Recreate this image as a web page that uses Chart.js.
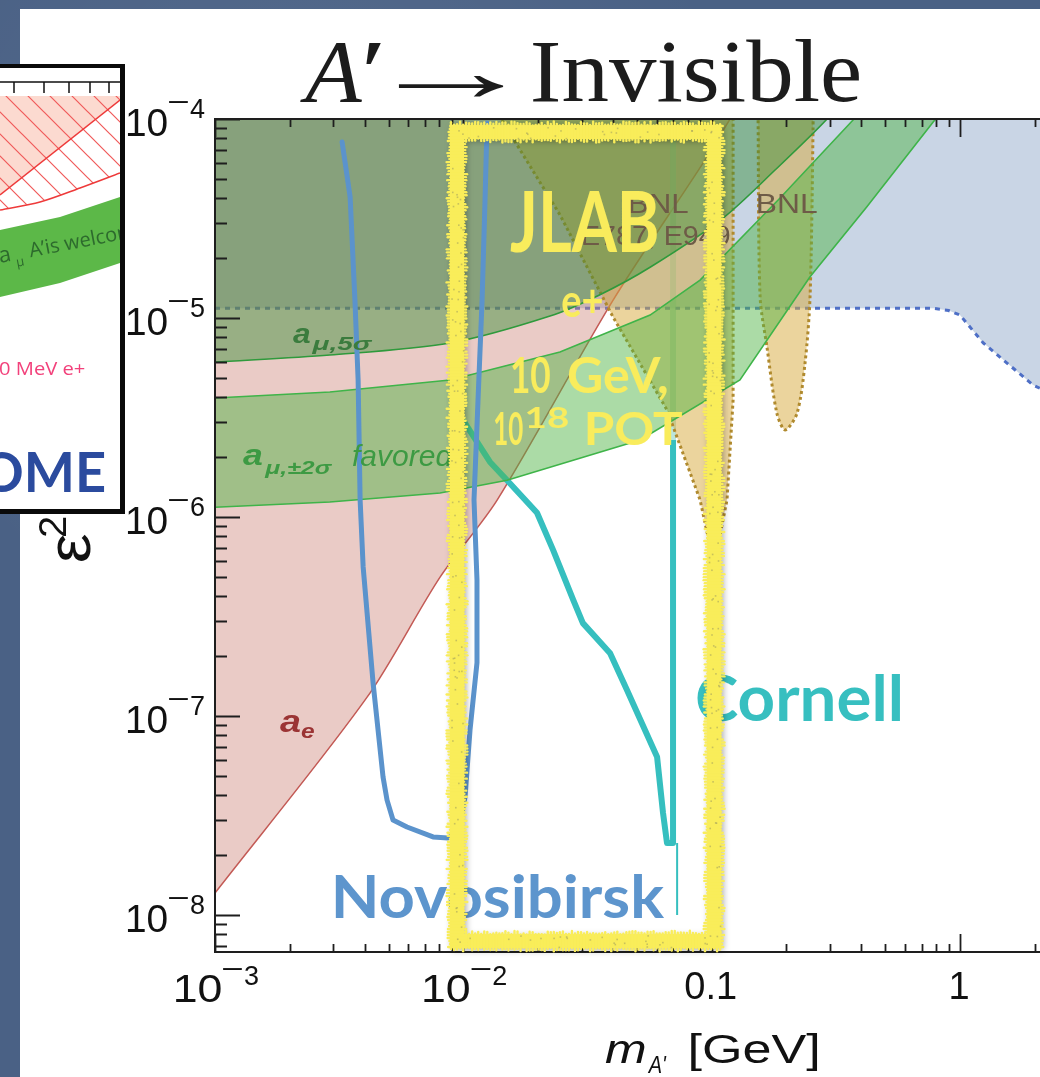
<!DOCTYPE html>
<html>
<head>
<meta charset="utf-8">
<script src="https://cdn.jsdelivr.net/npm/chart.js@4.4.1/dist/chart.umd.min.js"></script>
<style>
html,body{margin:0;padding:0;}
body{width:1040px;height:1077px;overflow:hidden;position:relative;background:#4a6185;
 background-image:radial-gradient(circle at 30% 20%, rgba(255,255,255,0.07), transparent 40%),radial-gradient(circle at 70% 80%, rgba(0,0,0,0.08), transparent 45%);}
#panel{position:absolute;left:20px;top:9px;right:0;bottom:0;background:#fff;}
#main{position:absolute;left:0;top:0;}
#inset{position:absolute;left:0;top:64px;width:120px;height:441px;border-top:4px solid #0a0a0a;border-right:5px solid #0a0a0a;border-bottom:5px solid #0a0a0a;background:#fff;overflow:hidden;}
#inset canvas{display:block;}
</style>
</head>
<body>
<div id="panel"></div>
<canvas id="main" width="1040" height="1077"></canvas>
<div id="inset"><canvas id="insetCanvas" width="120" height="441"></canvas></div>
<script>
// ================= DATA (x: m_A' in GeV, y: epsilon^2) =================
const xTickValues = [1e-3, 1e-2, 0.1, 1];
const xTickLabels = ['10^-3', '10^-2', '0.1', '1'];
const yTickValues = [1e-8, 1e-7, 1e-6, 1e-5, 1e-4];
const yTickLabels = ['10^-8', '10^-7', '10^-6', '10^-5', '10^-4'];

// blue dotted region (lower boundary, excluded above)
const babarBoundary = [[1e-3,1.12e-5],[0.78,1.12e-5],[0.9,1.09e-5],[1.0,1.035e-5],[1.24,7.5e-6],[1.97,4.6e-6],[2.4,4.1e-6]];
// a_e excluded region (lower boundary)
const aeBoundary = [[1e-3,1.29e-8],[4.09e-3,1.24e-7],[8.06e-3,4.99e-7],[0.0137,1.22e-6],[0.0401,1.23e-5],[0.0923,6.0e-5],[0.1186,1e-4],[0.15,1.6e-4]];
// a_mu 5 sigma excluded (lower boundary)
const amu5sigma = [[1e-3,6.0e-6],[2.9e-3,6.52e-6],[8.84e-3,7.49e-6],[0.02234,1.023e-5],[0.0355,1.31e-5],[0.0565,1.80e-5],[0.1112,3.18e-5],[0.180,5.54e-5],[0.2916,1e-4],[0.4,1.6e-4]];
// a_mu +-2 sigma favored band
const amu2sigmaUpper = [[1e-3,3.96e-6],[2.9e-3,4.25e-6],[8.84e-3,4.88e-6],[0.0245,6.75e-6],[0.0565,1.035e-5],[0.0898,1.55e-5],[0.1886,4.01e-5],[0.371,9.88e-5],[0.574,1.76e-4]];
const amu2sigmaLower = [[1e-3,1.12e-6],[2.9e-3,1.19e-6],[8.06e-3,1.32e-6],[0.0150,1.53e-6],[0.0515,2.44e-6],[0.130,4.88e-6],[0.249,1.61e-5],[0.421,3.61e-5],[0.78,9.66e-5],[1.0,1.40e-4]];
// BNL E787 / E949 regions
const bnlE787E949 = [[0.0140,1.3e-4],[0.0142,1e-4],[0.0245,3.3e-5],[0.0401,1.01e-5],[0.0661,3.45e-6],[0.0898,1.22e-6],[0.1023,5.74e-7],[0.1153,1.22e-6],[0.122,3.87e-6],[0.122,1.3e-4]];
const bnlRight = [[0.1538,1.3e-4],[0.1538,1e-4],[0.1567,1.28e-5],[0.167,7.15e-6],[0.183,3.33e-6],[0.1977,2.74e-6],[0.2208,3.33e-6],[0.2377,5.94e-6],[0.249,1.28e-5],[0.256,8.8e-5],[0.256,1.3e-4]];
// Novosibirsk projected reach
const novosibirsk = [[3.25e-3,7.66e-5],[3.50e-3,4.06e-5],[3.66e-3,1.23e-5],[3.77e-3,4.88e-6],[3.84e-3,1.22e-6],[3.95e-3,5.61e-7],[4.33e-3,1.47e-7],[4.75e-3,4.94e-8],[4.93e-3,3.78e-8],[5.21e-3,3.0e-8],[5.93e-3,2.77e-8],[7.55e-3,2.47e-8],[8.68e-3,2.44e-8],[9.52e-3,2.61e-8],[0.01016,3.92e-8],[0.01064,8.5e-8],[0.01135,1.85e-7],[0.01135,4.82e-7],[0.01104,1.22e-6],[0.01146,3.87e-6],[0.01190,1.23e-5],[0.01223,3.92e-5],[0.01246,9.55e-5]];
// Cornell projected reach
const cornell = [[9.75e-3,3.2e-6],[0.0128,1.89e-6],[0.0150,1.53e-6],[0.0198,1.05e-6],[0.0230,6.82e-7],[0.0277,3.83e-7],[0.0303,2.93e-7],[0.0390,2.07e-7],[0.0456,1.35e-7],[0.0603,6.22e-8],[0.0637,3.26e-8],[0.0661,2.30e-8],[0.0699,2.30e-8],[0.0699,2.44e-6]];
const cornellUpper = [[0.0699,2.44e-6],[0.0699,1e-4]];
const cornellTail = [[0.0726,2.3e-8],[0.0726,1.0e-8]];
// JLAB proposal box (data coordinates)
const jlabBox = {xMin:9.43e-3, xMax:0.1023, yMin:7.4e-9, yMax:8.6e-5};

// ---- inset (fragment of another plot, in its own reading units) ----
const insetPink = [[0,28],[120,28],[120,32],[0,127]];
const insetHatch = [[0,28],[120,28],[120,105],[80,120],[40,134],[0,142]];
const insetRedLine = [[0,127],[120,32]];
const insetRedCurve = [[0,142],[40,134],[80,120],[120,105]];
const insetBand = [[0,162],[60,149],[120,129],[120,195],[60,215],[0,229]];
const insetTicksX = [14,44,69,90,109];

// ================= helpers =================
const P = a => a.map(([x,y]) => ({x, y}));
function fitText(ctx, text, font, x0, x1, base, color){
  ctx.save();
  ctx.font = font; ctx.fillStyle = color; ctx.textAlign = 'left'; ctx.textBaseline = 'alphabetic';
  const m = ctx.measureText(text);
  const w = m.actualBoundingBoxRight + m.actualBoundingBoxLeft;
  const s = (x1 - x0) / w;
  ctx.translate(x0, base); ctx.scale(s, 1);
  ctx.fillText(text, m.actualBoundingBoxLeft, 0);
  ctx.restore();
}
function drawPow(ctx, label, xLeft, baseW, base, supBase){
  const [b, e] = label.split('^');
  fitText(ctx, b, '38px "Liberation Sans", Arial, sans-serif', xLeft, xLeft + baseW, base, '#111');
  const digit = e.replace('-', '');
  fitText(ctx, '\u2212', '27px "Liberation Sans", Arial, sans-serif', xLeft + baseW + 2, xLeft + baseW + 22, supBase - 7, '#111');
  ctx.save(); ctx.font = '27px "Liberation Sans", Arial, sans-serif'; ctx.fillStyle = '#111';
  ctx.fillText(digit, xLeft + baseW + 23, supBase); ctx.restore();
}
// deterministic roughness for the hand-drawn (chalk) frame
const rough = i => { const s = Math.sin(i * 12.9898 + 78.233) * 43758.5453; return s - Math.floor(s); };
function chalkEdge(ctx, x0, y0, x1, y1, w, seed){
  const len = Math.hypot(x1 - x0, y1 - y0), nx = -(y1 - y0) / len, ny = (x1 - x0) / len;
  const n = Math.floor(len / 3);
  for (let i = 0; i <= n; i++){
    const t = i / n, cx = x0 + (x1 - x0) * t, cy = y0 + (y1 - y0) * t;
    const o1 = (rough(seed + i) - 0.5) * 4, o2 = (rough(seed + i + 500) - 0.5) * 4;
    ctx.beginPath();
    ctx.moveTo(cx + nx * (w / 2 + o1), cy + ny * (w / 2 + o1));
    ctx.lineTo(cx - nx * (w / 2 + o2), cy - ny * (w / 2 + o2));
    ctx.stroke();
  }
}

// ================= decorations plugin =================
const decor = {
  id: 'decor',
  afterDatasetsDraw(chart){
    const {ctx, chartArea: a, scales: {x, y}} = chart;
    ctx.save();
    // frame
    ctx.strokeStyle = '#1e1e1e'; ctx.lineWidth = 2;
    ctx.beginPath();
    ctx.moveTo(a.right + 5, a.top); ctx.lineTo(a.left, a.top); ctx.lineTo(a.left, a.bottom); ctx.lineTo(a.right + 5, a.bottom);
    ctx.stroke();
    // ticks (inward)
    ctx.lineWidth = 1.8; ctx.beginPath();
    for (let e = Math.floor(Math.log10(x.min)); e <= Math.ceil(Math.log10(x.max)); e++){
      for (let k = 1; k < 10; k++){
        const v = k * Math.pow(10, e);
        if (v < x.min * 0.999 || v > x.max) continue;
        const p = Math.round(x.getPixelForValue(v)) + 0.5, L = k === 1 ? 18 : 8;
        ctx.moveTo(p, a.bottom); ctx.lineTo(p, a.bottom - L);
        ctx.moveTo(p, a.top); ctx.lineTo(p, a.top + L);
      }
    }
    for (let e = Math.floor(Math.log10(y.min)); e <= Math.ceil(Math.log10(y.max)); e++){
      for (let k = 1; k < 10; k++){
        const v = k * Math.pow(10, e);
        if (v < y.min || v > y.max * 1.001) continue;
        const p = Math.round(y.getPixelForValue(v)) + 0.5, L = k === 1 ? 25 : 12;
        ctx.moveTo(a.left, p); ctx.lineTo(a.left + L, p);
      }
    }
    ctx.stroke();
    // tick labels
    yTickValues.forEach((v, i) => {
      const p = y.getPixelForValue(v);
      drawPow(ctx, yTickLabels[i], a.left - 88, 40, p + 17, p - 1);
    });
    xTickValues.forEach((v, i) => {
      const p = x.getPixelForValue(v), lab = xTickLabels[i];
      if (lab.includes('^')) drawPow(ctx, lab, p - 40, 46, a.bottom + 50, a.bottom + 33);
      else { ctx.font = '38px "Liberation Sans", Arial, sans-serif'; ctx.fillStyle = '#111'; ctx.textAlign = 'center'; ctx.fillText(lab, p - 1, a.bottom + 47); ctx.textAlign = 'left'; }
    });
    // axis titles
    fitText(ctx, 'm', 'italic 40px "Liberation Sans", Arial, sans-serif', 605, 645, 1063, '#111');
    fitText(ctx, "A'", 'italic 24px "Liberation Sans", Arial, sans-serif', 647, 667, 1073, '#111');
    fitText(ctx, '[GeV]', '40px "Liberation Sans", Arial, sans-serif', 690, 818, 1063, '#111');
    ctx.save(); ctx.translate(90, 561); ctx.rotate(-Math.PI / 2);
    fitText(ctx, '\u03b5', '62px "Liberation Sans", Arial, sans-serif', 0, 27, 0, '#111');
    fitText(ctx, '2', '38px "Liberation Sans", Arial, sans-serif', 24, 44, -24, '#111');
    ctx.restore();
    // title
    const serif = '"Liberation Serif", "DejaVu Serif", serif';
    fitText(ctx, 'A', 'italic 88px ' + serif, 300, 363, 101, '#1c1c1c');
    fitText(ctx, '\u2032', '88px ' + serif, 366, 381, 101, '#1c1c1c');
    fitText(ctx, '\u2192', '88px ' + serif, 397, 505, 101, '#1c1c1c');
    fitText(ctx, 'Invisible', '88px ' + serif, 533, 860, 101, '#1c1c1c');
    // region labels
    const sans = '"Liberation Sans", Arial, sans-serif';
    fitText(ctx, 'a', 'bold italic 28px ' + sans, 293, 310, 343, '#3b7c3e');
    fitText(ctx, '\u03bc,5\u03c3', 'bold italic 18px ' + sans, 311, 373, 350, '#3b7c3e');
    fitText(ctx, 'a', 'bold italic 30px ' + sans, 243, 262, 465, '#3d9a43');
    fitText(ctx, '\u03bc,\u00b12\u03c3', 'bold italic 19px ' + sans, 264, 333, 474, '#3d9a43');
    ctx.font = 'italic 30px ' + sans; ctx.fillStyle = '#3d9a43'; ctx.fillText('favored', 352, 466);
    fitText(ctx, 'a', 'bold italic 32px ' + sans, 280, 300, 732, '#9b3434');
    fitText(ctx, 'e', 'bold italic 21px ' + sans, 301, 315, 738, '#9b3434');
    fitText(ctx, 'BNL', '28px ' + sans, 630, 688, 213, '#6e5b47');
    fitText(ctx, 'E787, E949', '28px ' + sans, 583, 730, 245, '#6e5b47');
    fitText(ctx, 'BNL', '28px ' + sans, 758, 817, 213, '#6e5b47');
    // experiment names
    fitText(ctx, 'Novosibirsk', 'bold 60px Lato, "Open Sans", sans-serif', 335, 665, 918, '#5d95cd');
    fitText(ctx, 'Cornell', 'bold 64px Lato, "Open Sans", sans-serif', 697, 900, 721, '#37bfc0');
    // JLAB box (chalk-like frame)
    const bx0 = x.getPixelForValue(jlabBox.xMin), bx1 = x.getPixelForValue(jlabBox.xMax);
    const by0 = y.getPixelForValue(jlabBox.yMax), by1 = y.getPixelForValue(jlabBox.yMin);
    ctx.save();
    ctx.shadowColor = 'rgba(0,0,0,0.35)'; ctx.shadowBlur = 7; ctx.shadowOffsetX = 2; ctx.shadowOffsetY = 2;
    ctx.strokeStyle = '#f8ec58'; ctx.lineWidth = 14; ctx.lineJoin = 'miter';
    ctx.strokeRect(bx0, by0, bx1 - bx0, by1 - by0);
    ctx.restore();
    ctx.save();
    ctx.strokeStyle = '#f9ed5a'; ctx.lineWidth = 2.4; ctx.lineCap = 'round';
    chalkEdge(ctx, bx0 - 6, by0, bx1 + 6, by0, 17, 1);
    chalkEdge(ctx, bx1, by0 - 6, bx1, by1 + 6, 17, 2000);
    chalkEdge(ctx, bx1 + 6, by1, bx0 - 6, by1, 17, 4000);
    chalkEdge(ctx, bx0, by1 + 6, bx0, by0 - 6, 17, 6000);
    ctx.fillStyle = 'rgba(140,140,95,0.45)';
    const specks = (x0, y0, x1, y1, seed) => {
      const n = Math.floor(Math.hypot(x1 - x0, y1 - y0) / 9);
      for (let i = 0; i < n; i++){
        const t = rough(seed + i * 3), cx = x0 + (x1 - x0) * t, cy = y0 + (y1 - y0) * t;
        const ox = (rough(seed + i * 3 + 1) - 0.5) * 12, oy = (rough(seed + i * 3 + 2) - 0.5) * 12;
        const hz = y0 === y1;
        ctx.fillRect(cx + (hz ? 0 : ox), cy + (hz ? oy : 0), 1.6, 1.6);
      }
    };
    specks(bx0, by0, bx1, by0, 10); specks(bx1, by0, bx1, by1, 3000); specks(bx0, by1, bx1, by1, 5000); specks(bx0, by0, bx0, by1, 7000);
    ctx.restore();
    // JLAB texts
    const hum = 'Lato, "Open Sans", sans-serif', yel = '#f9ec5c';
    fitText(ctx, 'JLAB', 'bold 84px ' + hum, 510, 657, 252, yel);
    fitText(ctx, 'e+', 'bold 46px ' + hum, 562, 602, 317, yel);
    fitText(ctx, '10', 'bold 50px ' + hum, 512, 550, 393, yel);
    fitText(ctx, 'GeV,', 'bold 50px ' + hum, 568, 667, 393, yel);
    fitText(ctx, '10', 'bold 46px ' + hum, 495, 523, 445, yel);
    fitText(ctx, '18', 'bold 28px ' + hum, 526, 569, 428, yel);
    fitText(ctx, 'POT', 'bold 46px ' + hum, 587, 682, 445, yel);
    ctx.restore();
  }
};

// ================= main chart =================
const line = (label, data, o) => Object.assign({label, data: P(data), pointRadius: 0, borderWidth: 0, fill: false, clip: 0, tension: 0}, o);
new Chart(document.getElementById('main'), {
  type: 'line',
  data: { datasets: [
    line('BaBar', babarBoundary, {fill: 'end', backgroundColor: 'rgba(148,172,204,0.5)', borderColor: '#4e6fc6', borderWidth: 3, borderDash: [5, 5], order: 10}),
    line('a_e', aeBoundary, {fill: 'end', backgroundColor: 'rgba(205,130,120,0.42)', borderColor: '#c35a55', borderWidth: 1.5, tension: 0.3, order: 9}),
    line('Cornell (upper)', cornellUpper, {borderColor: 'rgba(130,210,195,0.55)', borderWidth: 6, order: 8.5}),
    line('Cornell', cornell, {borderColor: '#36bfbf', borderWidth: 6, borderJoinStyle: 'round', order: 8}),
    line('BNL E787, E949', bnlE787E949, {fill: 'shape', backgroundColor: 'rgba(215,170,60,0.5)', borderColor: '#b08a2e', borderWidth: 3, borderDash: [3, 3], order: 7}),
    line('BNL', bnlRight, {fill: 'shape', backgroundColor: 'rgba(215,170,60,0.5)', borderColor: '#b08a2e', borderWidth: 3, borderDash: [3, 3], tension: 0.3, order: 7}),
    line('a_mu 5 sigma', amu5sigma, {fill: 'end', backgroundColor: 'rgba(50,140,50,0.45)', borderColor: '#2f9a3c', borderWidth: 1.6, tension: 0.3, order: 6}),
    line('a_mu +-2 sigma favored', amu2sigmaUpper.concat(amu2sigmaLower.slice().reverse()), {fill: 'shape', backgroundColor: 'rgba(80,180,70,0.48)', borderColor: '#3fb449', borderWidth: 1.6, order: 5}),
    line('Novosibirsk', novosibirsk, {borderColor: '#5b93cc', borderWidth: 5, borderJoinStyle: 'round', borderCapStyle: 'round', order: 2}),
    line('Cornell tail', cornellTail, {borderColor: '#36bfbf', borderWidth: 2, order: 2})
  ]},
  options: {
    responsive: false, animation: false, devicePixelRatio: 1,
    layout: {padding: {left: 215, top: 119, right: 0, bottom: 125}},
    plugins: {legend: {display: false}, tooltip: {enabled: false}},
    scales: {
      x: {type: 'logarithmic', min: 1e-3, max: 2.1, display: false},
      y: {type: 'logarithmic', min: 6.52e-9, max: 1e-4, display: false}
    }
  },
  plugins: [decor]
});

// ================= inset chart =================
const hatchCanvas = document.createElement('canvas');
hatchCanvas.width = 22; hatchCanvas.height = 22;
(function(){ const c = hatchCanvas.getContext('2d'); c.strokeStyle = '#f05a5a'; c.lineWidth = 1.2;
  c.beginPath(); c.moveTo(-2, -2); c.lineTo(24, 24); c.moveTo(-2, 20); c.lineTo(2, 24); c.moveTo(20, -2); c.lineTo(24, 2); c.stroke(); })();
const insetCtx = document.getElementById('insetCanvas').getContext('2d');
const hatch = insetCtx.createPattern(hatchCanvas, 'repeat');
const insetDecor = {
  id: 'insetDecor',
  afterDatasetsDraw(chart){
    const {ctx, scales: {x, y}} = chart;
    ctx.save();
    ctx.strokeStyle = '#111'; ctx.lineWidth = 1.5; ctx.beginPath();
    ctx.moveTo(0, y.getPixelForValue(14)); ctx.lineTo(120, y.getPixelForValue(14));
    insetTicksX.forEach(t => { const p = x.getPixelForValue(t); ctx.moveTo(p, y.getPixelForValue(14)); ctx.lineTo(p, y.getPixelForValue(25)); });
    ctx.stroke();
    // band text
    ctx.save(); ctx.translate(0, 195); ctx.rotate(-0.19);
    ctx.fillStyle = '#2d6a2d';
    ctx.font = '22px "Open Sans", sans-serif'; ctx.fillText('a', 0, 0);
    ctx.font = '13px "Open Sans", sans-serif'; ctx.fillText('\u03bc', 16, 7);
    ctx.font = '20px "Open Sans", sans-serif'; ctx.fillText('A\u2019is welcome', 31, 0);
    ctx.restore();
    fitText(ctx, '0 MeV e+', '18px "Open Sans", sans-serif', -1, 85, 307, '#f2417b');
    fitText(ctx, 'OME', 'bold 56px Lato, "Open Sans", sans-serif', -18, 105, 424, '#2b4b9e');
    ctx.restore();
  }
};
new Chart(insetCtx, {
  type: 'line',
  data: { datasets: [
    line('band', insetBand, {fill: 'shape', backgroundColor: '#5cb848', order: 5}),
    line('pink', insetPink, {fill: 'shape', backgroundColor: '#fcdad0', order: 4}),
    line('hatch', insetHatch, {fill: 'shape', backgroundColor: hatch, order: 3}),
    line('red line', insetRedLine, {borderColor: '#ee3a3a', borderWidth: 1.5, order: 2}),
    line('red curve', insetRedCurve, {borderColor: '#ee3a3a', borderWidth: 1.5, tension: 0.3, order: 2})
  ]},
  options: {
    responsive: false, animation: false, devicePixelRatio: 1,
    layout: {padding: 0},
    plugins: {legend: {display: false}, tooltip: {enabled: false}},
    scales: {
      x: {type: 'linear', min: 0, max: 120, display: false},
      y: {type: 'linear', min: 0, max: 441, reverse: true, display: false}
    }
  },
  plugins: [insetDecor]
});
</script>
</body>
</html>
